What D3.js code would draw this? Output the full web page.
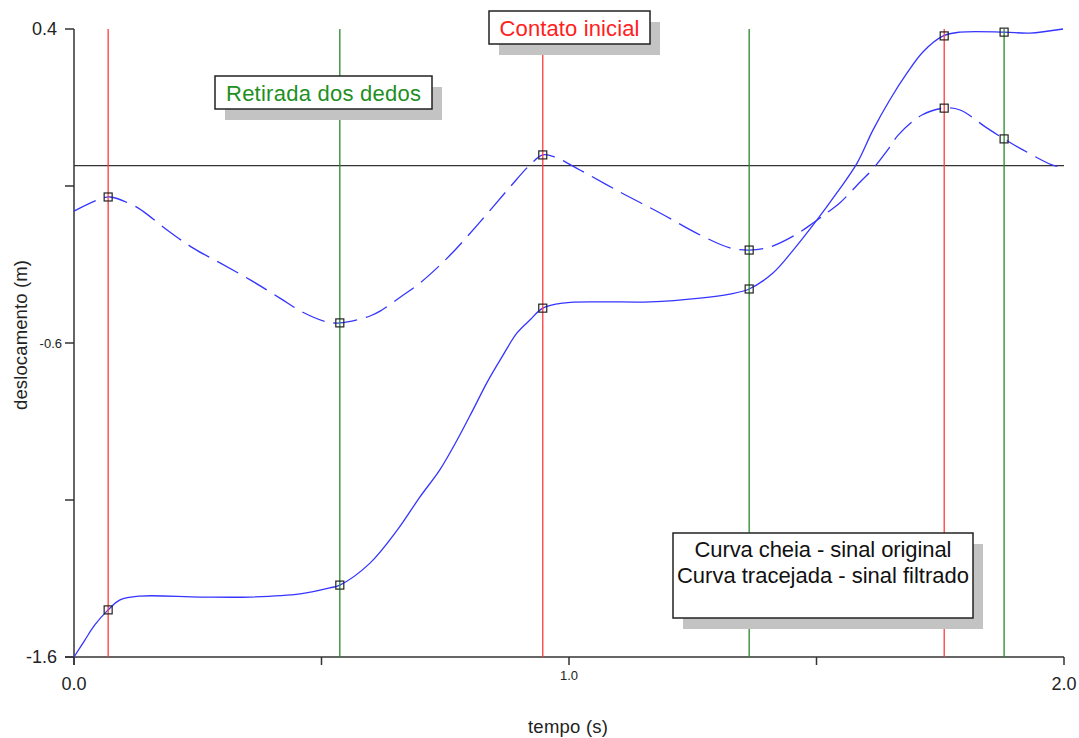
<!DOCTYPE html>
<html>
<head>
<meta charset="utf-8">
<script src="https://cdn.jsdelivr.net/npm/d3@7"></script>
<style>
  body { margin: 0; background: #fff; }
  svg { font-family: "Liberation Sans", Arial, sans-serif; }
</style>
</head>
<body>
<svg id="chart" width="1079" height="738"></svg>
<script>
// original signal (solid curve)
const solidT = [0, 0.022, 0.042, 0.069, 0.093, 0.133, 0.255, 0.356, 0.457, 0.517, 0.537, 0.598, 0.653, 0.699, 0.739, 0.774, 0.806, 0.834, 0.861, 0.895, 0.921, 0.947, 0.988, 1.063, 1.164, 1.265, 1.325, 1.364, 1.412, 1.453, 1.501, 1.541, 1.582, 1.614, 1.648, 1.683, 1.715, 1.756, 1.790, 1.879, 1.931, 1.998];
const solidV = [-1.600, -1.546, -1.498, -1.450, -1.418, -1.406, -1.409, -1.409, -1.399, -1.380, -1.371, -1.301, -1.196, -1.090, -1.004, -0.909, -0.813, -0.727, -0.654, -0.568, -0.527, -0.489, -0.473, -0.469, -0.469, -0.457, -0.444, -0.428, -0.377, -0.304, -0.208, -0.122, -0.027, 0.078, 0.174, 0.260, 0.327, 0.378, 0.390, 0.390, 0.387, 0.400];

// filtered signal (dashed curve)
const dashedT = [0, 0.053, 0.073, 0.119, 0.139, 0.188, 0.240, 0.295, 0.356, 0.416, 0.461, 0.511, 0.537, 0.598, 0.622, 0.659, 0.699, 0.760, 0.820, 0.881, 0.921, 0.947, 0.972, 1.022, 1.103, 1.184, 1.265, 1.325, 1.364, 1.406, 1.457, 1.493, 1.523, 1.547, 1.592, 1.612, 1.648, 1.665, 1.713, 1.758, 1.790, 1.844, 1.879, 1.917, 1.982, 1.996];
const dashedV = [-0.180, -0.141, -0.135, -0.161, -0.180, -0.240, -0.297, -0.345, -0.399, -0.457, -0.501, -0.533, -0.536, -0.514, -0.495, -0.454, -0.409, -0.320, -0.215, -0.103, -0.033, -0.001, -0.008, -0.049, -0.119, -0.186, -0.256, -0.297, -0.304, -0.294, -0.256, -0.218, -0.183, -0.154, -0.081, -0.049, 0.024, 0.062, 0.126, 0.148, 0.142, 0.085, 0.050, 0.015, -0.036, -0.036];

// event markers
const eventT = [0.069, 0.537, 0.947, 1.364, 1.758, 1.879];
const eventKind = ["contato", "retirada", "contato", "retirada", "contato", "retirada"];
const markSolidV = [-1.450, -1.371, -0.489, -0.428, 0.378, 0.390];
const markDashedV = [-0.135, -0.536, -0.001, -0.304, 0.148, 0.050];

const thresholdV = -0.035;

const xTicks = [0, 0.5, 1.0, 1.5, 2.0];
const yTicks = [0.4, -0.1, -0.6, -1.1, -1.6];
const xTickLabels = [{v: 0, t: "0.0", big: true}, {v: 1.0, t: "1.0", big: false}, {v: 2.0, t: "2.0", big: true}];
const yTickLabels = [{v: 0.4, t: "0.4", big: true}, {v: -0.6, t: "-0.6", big: false}, {v: -1.6, t: "-1.6", big: true}];

const svg = d3.select("#chart");
const mLeft = 74, mRight = 1064, mTop = 29, mBottom = 657;

const x = d3.scaleLinear().domain([0, 2]).range([mLeft, mRight]);
const y = d3.scaleLinear().domain([-1.6, 0.4]).range([mBottom, mTop]);

// axes
const axisColor = "#333";
svg.append("line").attr("x1", mLeft).attr("x2", mLeft).attr("y1", mTop).attr("y2", mBottom + 8)
  .attr("stroke", axisColor).attr("stroke-width", 1.5);
svg.append("line").attr("x1", mLeft - 9).attr("x2", mRight).attr("y1", mBottom).attr("y2", mBottom)
  .attr("stroke", axisColor).attr("stroke-width", 1.5);

svg.selectAll(".ytick").data(yTicks).enter().append("line")
  .attr("x1", mLeft - 9).attr("x2", mLeft)
  .attr("y1", d => y(d)).attr("y2", d => y(d))
  .attr("stroke", axisColor).attr("stroke-width", 1.5);

svg.selectAll(".xtick").data(xTicks).enter().append("line")
  .attr("x1", d => x(d)).attr("x2", d => x(d))
  .attr("y1", mBottom).attr("y2", mBottom + 8)
  .attr("stroke", axisColor).attr("stroke-width", 1.5);

svg.selectAll(".ylab").data(yTickLabels).enter().append("text")
  .attr("x", d => d.big ? mLeft - 17 : mLeft - 12).attr("y", d => y(d.v))
  .attr("dy", "0.35em").attr("text-anchor", "end")
  .attr("font-size", d => d.big ? 18 : 13)
  .attr("fill", "#222").text(d => d.t);

svg.selectAll(".xlab").data(xTickLabels).enter().append("text")
  .attr("x", d => x(d.v)).attr("y", d => d.big ? mBottom + 33 : mBottom + 23)
  .attr("text-anchor", "middle")
  .attr("font-size", d => d.big ? 18 : 13)
  .attr("fill", "#222").text(d => d.t);

svg.append("text").attr("x", (mLeft + mRight) / 2 - 1).attr("y", 733)
  .attr("text-anchor", "middle").attr("font-size", 18.5).attr("fill", "#222")
  .attr("textLength", 80).attr("lengthAdjust", "spacing")
  .text("tempo (s)");

svg.append("text")
  .attr("transform", "translate(27,335) rotate(-90)")
  .attr("text-anchor", "middle").attr("font-size", 18.5).attr("fill", "#222")
  .attr("textLength", 150).attr("lengthAdjust", "spacing")
  .text("deslocamento (m)");

// horizontal reference line
svg.append("line").attr("x1", mLeft).attr("x2", mRight)
  .attr("y1", y(thresholdV)).attr("y2", y(thresholdV))
  .attr("stroke", axisColor).attr("stroke-width", 1.3);

// curves
const line = d3.line().x(d => x(d[0])).y(d => y(d[1])).curve(d3.curveCatmullRom);

svg.append("path").datum(d3.zip(solidT, solidV))
  .attr("d", line).attr("fill", "none")
  .attr("stroke", "#3535ff").attr("stroke-width", 1.3);

svg.append("path").datum(d3.zip(dashedT, dashedV))
  .attr("d", line).attr("fill", "none")
  .attr("stroke", "#3535ff").attr("stroke-width", 1.3)
  .attr("stroke-dasharray", "24,9");

// event lines
const eventColor = k => k === "contato" ? "#ff3b3b" : "#2a8a2a";
svg.selectAll(".ev").data(eventT).enter().append("line")
  .attr("x1", d => x(d)).attr("x2", d => x(d))
  .attr("y1", mTop).attr("y2", mBottom)
  .attr("stroke", (d, i) => eventColor(eventKind[i])).attr("stroke-width", 1.3);

// markers
const marks = eventT.map((t, i) => [t, markSolidV[i]]).concat(eventT.map((t, i) => [t, markDashedV[i]]));
svg.selectAll(".mk").data(marks).enter().append("rect")
  .attr("x", d => x(d[0]) - 4).attr("y", d => y(d[1]) - 4)
  .attr("width", 8).attr("height", 8)
  .attr("fill", "none").attr("stroke", "#222").attr("stroke-width", 1.2);

// label boxes with shadow
function labelBox(bx, by, w, h, lines, color, lineH, firstBase) {
  svg.append("rect").attr("x", bx + 10).attr("y", by + 11).attr("width", w).attr("height", h)
    .attr("fill", "#c3c3c3");
  svg.append("rect").attr("x", bx).attr("y", by).attr("width", w).attr("height", h)
    .attr("fill", "#fff").attr("stroke", "#222").attr("stroke-width", 1.5);
  lines.forEach((l, i) => {
    svg.append("text").attr("x", bx + w / 2).attr("y", by + firstBase + i * lineH)
      .attr("text-anchor", "middle").attr("font-size", 22).attr("fill", color)
      .attr("textLength", l.len).attr("lengthAdjust", "spacing").text(l.t);
  });
}

labelBox(489, 11, 161, 33, [{t: "Contato inicial", len: 140}], "#ff2020", 0, 25);
labelBox(215, 76, 217, 33, [{t: "Retirada dos dedos", len: 195}], "#1f8f1f", 0, 25);
labelBox(673, 533, 300, 85, [{t: "Curva cheia - sinal original", len: 257},
  {t: "Curva tracejada - sinal filtrado", len: 292}], "#111", 26, 24);
</script>
</body>
</html>
